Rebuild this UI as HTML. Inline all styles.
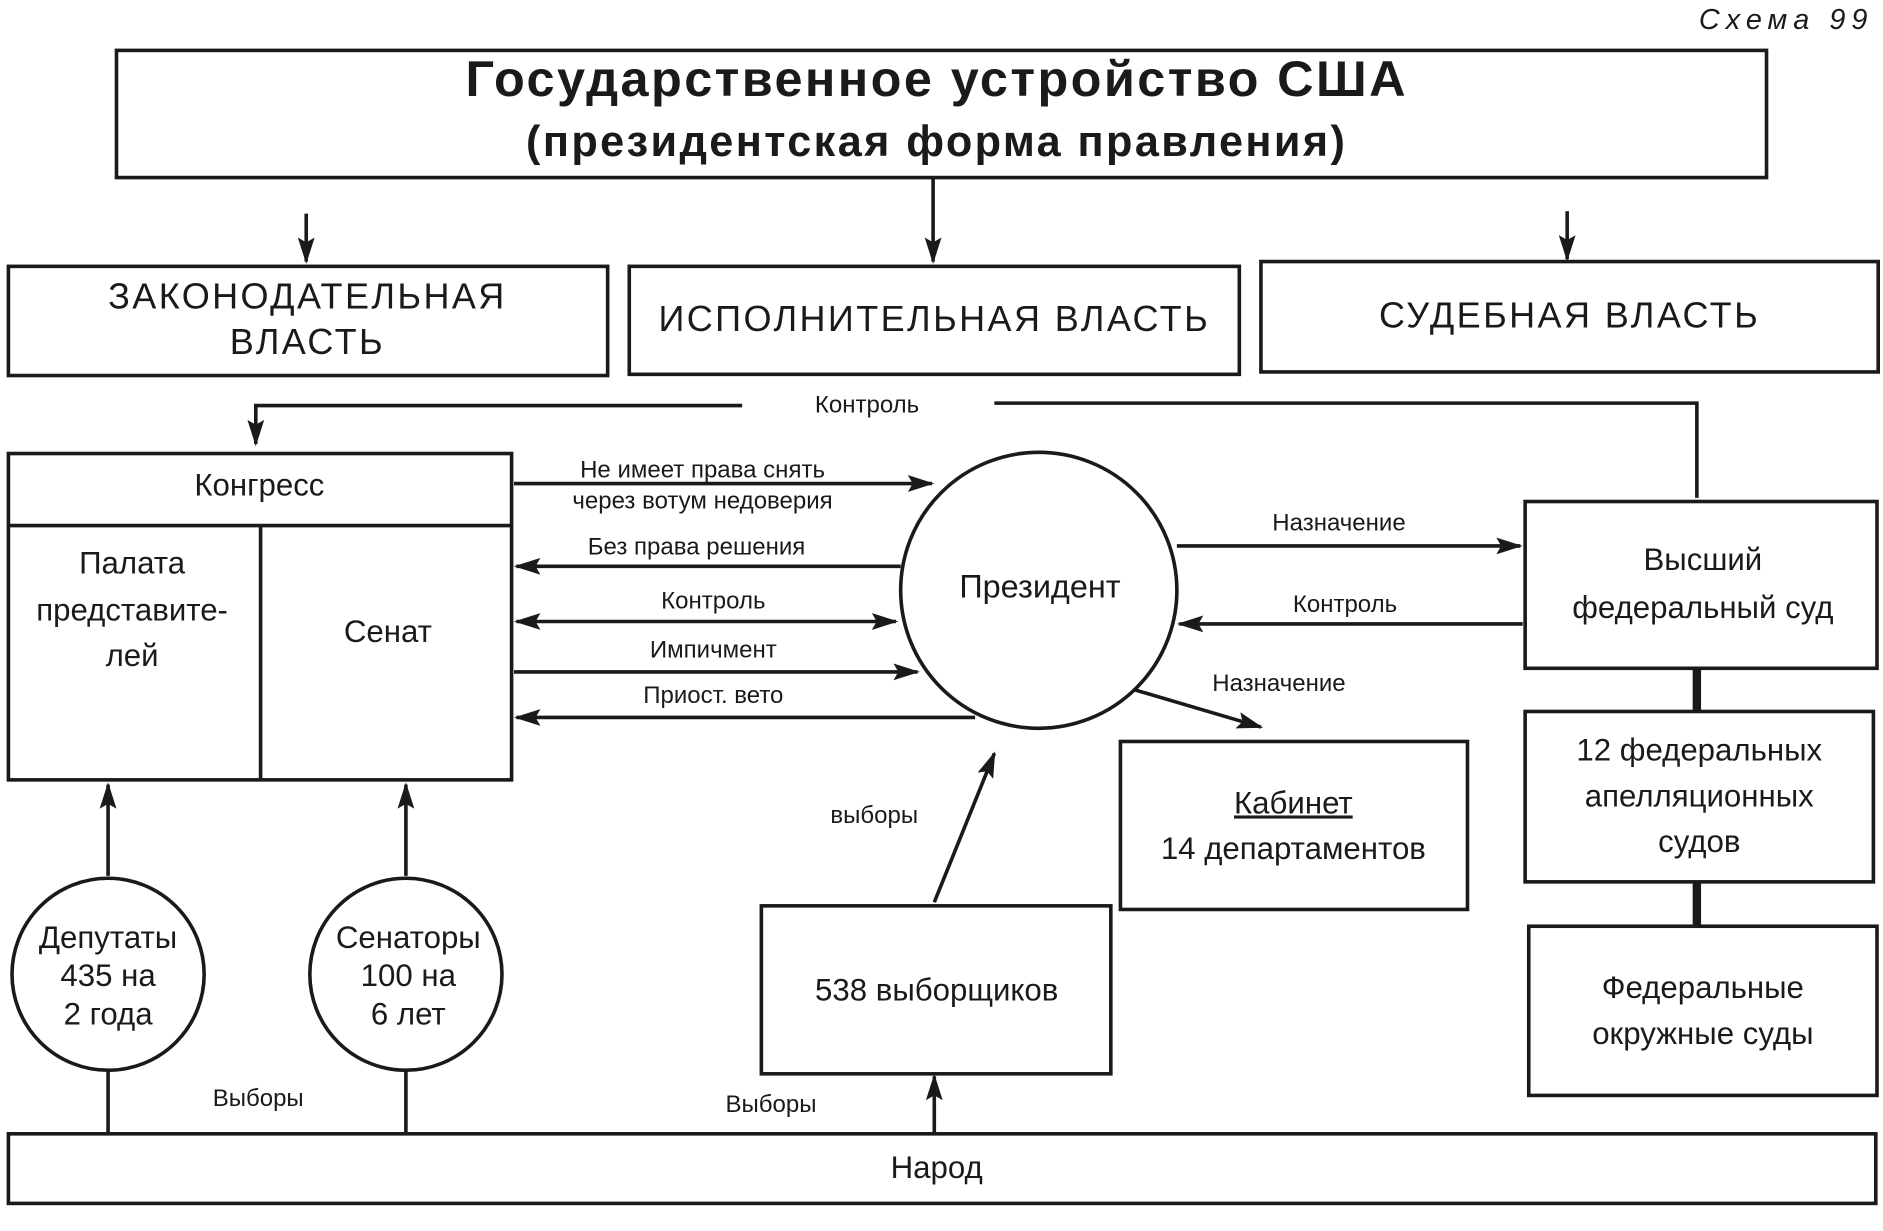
<!DOCTYPE html>
<html><head><meta charset="utf-8"><style>
html,body{margin:0;padding:0;background:#fff}
svg{display:block}
text{font-family:"Liberation Sans","DejaVu Sans",sans-serif;fill:#1a1a1a}
</style></head><body>
<svg width="1883" height="1231" viewBox="0 0 1568 1026" preserveAspectRatio="none" xmlns="http://www.w3.org/2000/svg">
<defs>
<marker id="b" markerWidth="22" markerHeight="14" refX="20" refY="7" orient="auto" markerUnits="userSpaceOnUse" viewBox="0 0 22 14"><path d="M0,0 L22,7 L0,14 L4,7 Z" fill="#1a1a1a"/></marker>
<marker id="bs" markerWidth="22" markerHeight="14" refX="2" refY="7" orient="auto" markerUnits="userSpaceOnUse" viewBox="0 0 22 14"><path d="M22,0 L0,7 L22,14 L18,7 Z" fill="#1a1a1a"/></marker></defs>
<g stroke="#1a1a1a" stroke-width="3" fill="none">
<rect x="97" y="42" width="1374" height="106"/>
<rect x="7" y="222" width="499" height="91"/>
<rect x="524" y="222" width="508" height="90"/>
<rect x="1050" y="218" width="514" height="92"/>
<rect x="7" y="378" width="419" height="272"/>
<line x1="7" y1="438" x2="426" y2="438"/>
<line x1="217" y1="438" x2="217" y2="650"/>
<circle cx="865" cy="492" r="115"/>
<rect x="1270" y="418" width="293" height="139"/>
<rect x="1270" y="593" width="290" height="142"/>
<rect x="1273" y="772" width="290" height="141"/>
<rect x="933" y="618" width="289" height="140"/>
<rect x="634" y="755" width="291" height="140"/>
<rect x="7" y="945" width="1555" height="58"/>
<circle cx="90" cy="812" r="80"/>
<circle cx="338" cy="812" r="80"/>
<polyline points="1413,415 1413,336 828,336"/>
</g>
<g stroke="#1a1a1a" stroke-width="3" fill="none" marker-end="url(#b)">
<line x1="777" y1="148" x2="777" y2="218"/>
<line x1="255" y1="178" x2="255" y2="218"/>
<line x1="1305" y1="176" x2="1305" y2="216"/>
<polyline points="618,338 213,338 213,370"/>
<line x1="428" y1="403" x2="776" y2="403"/>
<line x1="750" y1="472" x2="430" y2="472"/>
<line x1="430" y1="518" x2="746" y2="518" marker-start="url(#bs)"/>
<line x1="428" y1="560" x2="764" y2="560"/>
<line x1="812" y1="598" x2="430" y2="598"/>
<line x1="980" y1="455" x2="1266" y2="455"/>
<line x1="1268" y1="520" x2="982" y2="520"/>
<line x1="945" y1="575" x2="1050" y2="606"/>
<line x1="778" y1="752" x2="828" y2="628"/>
<line x1="778" y1="945" x2="778" y2="897"/>
<line x1="90" y1="730" x2="90" y2="654"/>
<line x1="338" y1="730" x2="338" y2="654"/>
</g>
<g stroke="#1a1a1a" stroke-width="3">
<line x1="90" y1="892" x2="90" y2="945"/>
<line x1="338" y1="892" x2="338" y2="945"/>
</g>
<g stroke="#1a1a1a" stroke-width="7">
<line x1="1413" y1="557" x2="1413" y2="593"/>
<line x1="1413" y1="735" x2="1413" y2="772"/>
</g>
<text x="1560" y="24" font-size="24" font-style="italic" text-anchor="end" letter-spacing="5">Схема 99</text>
<g text-anchor="middle">
<text x="780" y="80" font-size="42" font-weight="bold" letter-spacing="2">Государственное устройство США</text>
<text x="780" y="130" font-size="36" font-weight="bold" letter-spacing="2">(президентская форма правления)</text>
<text x="256" y="257" font-size="30" letter-spacing="2">ЗАКОНОДАТЕЛЬНАЯ</text>
<text x="256" y="295" font-size="30" letter-spacing="2">ВЛАСТЬ</text>
<text x="778" y="276" font-size="30" letter-spacing="2">ИСПОЛНИТЕЛЬНАЯ ВЛАСТЬ</text>
<text x="1307" y="273" font-size="30" letter-spacing="2">СУДЕБНАЯ ВЛАСТЬ</text>
<text x="722" y="344" font-size="20">Контроль</text>
<text x="216" y="413" font-size="26">Конгресс</text>
<text x="110" y="478" font-size="26">Палата</text>
<text x="110" y="517" font-size="26">представите-</text>
<text x="110" y="555" font-size="26">лей</text>
<text x="323" y="535" font-size="26">Сенат</text>
<text x="585" y="398" font-size="20">Не имеет права снять</text>
<text x="585" y="424" font-size="20">через вотум недоверия</text>
<text x="580" y="462" font-size="20">Без права решения</text>
<text x="594" y="507" font-size="20">Контроль</text>
<text x="594" y="548" font-size="20">Импичмент</text>
<text x="594" y="586" font-size="20">Приост. вето</text>
<text x="866" y="498" font-size="27">Президент</text>
<text x="1115" y="442" font-size="20">Назначение</text>
<text x="1120" y="510" font-size="20">Контроль</text>
<text x="1065" y="576" font-size="20">Назначение</text>
<text x="1418" y="475" font-size="26">Высший</text>
<text x="1418" y="515" font-size="26">федеральный суд</text>
<text x="1415" y="634" font-size="26">12 федеральных</text>
<text x="1415" y="672" font-size="26">апелляционных</text>
<text x="1415" y="710" font-size="26">судов</text>
<text x="1418" y="832" font-size="26">Федеральные</text>
<text x="1418" y="870" font-size="26">окружные суды</text>
<text x="1077" y="678" font-size="26" text-decoration="underline">Кабинет</text>
<text x="1077" y="716" font-size="26">14 департаментов</text>
<text x="780" y="834" font-size="26">538 выборщиков</text>
<text x="728" y="686" font-size="20">выборы</text>
<text x="90" y="790" font-size="26">Депутаты</text>
<text x="90" y="822" font-size="26">435 на</text>
<text x="90" y="854" font-size="26">2 года</text>
<text x="340" y="790" font-size="26">Сенаторы</text>
<text x="340" y="822" font-size="26">100 на</text>
<text x="340" y="854" font-size="26">6 лет</text>
<text x="215" y="922" font-size="20">Выборы</text>
<text x="642" y="927" font-size="20">Выборы</text>
<text x="780" y="982" font-size="26">Народ</text>
</g>
</svg>
</body></html>
